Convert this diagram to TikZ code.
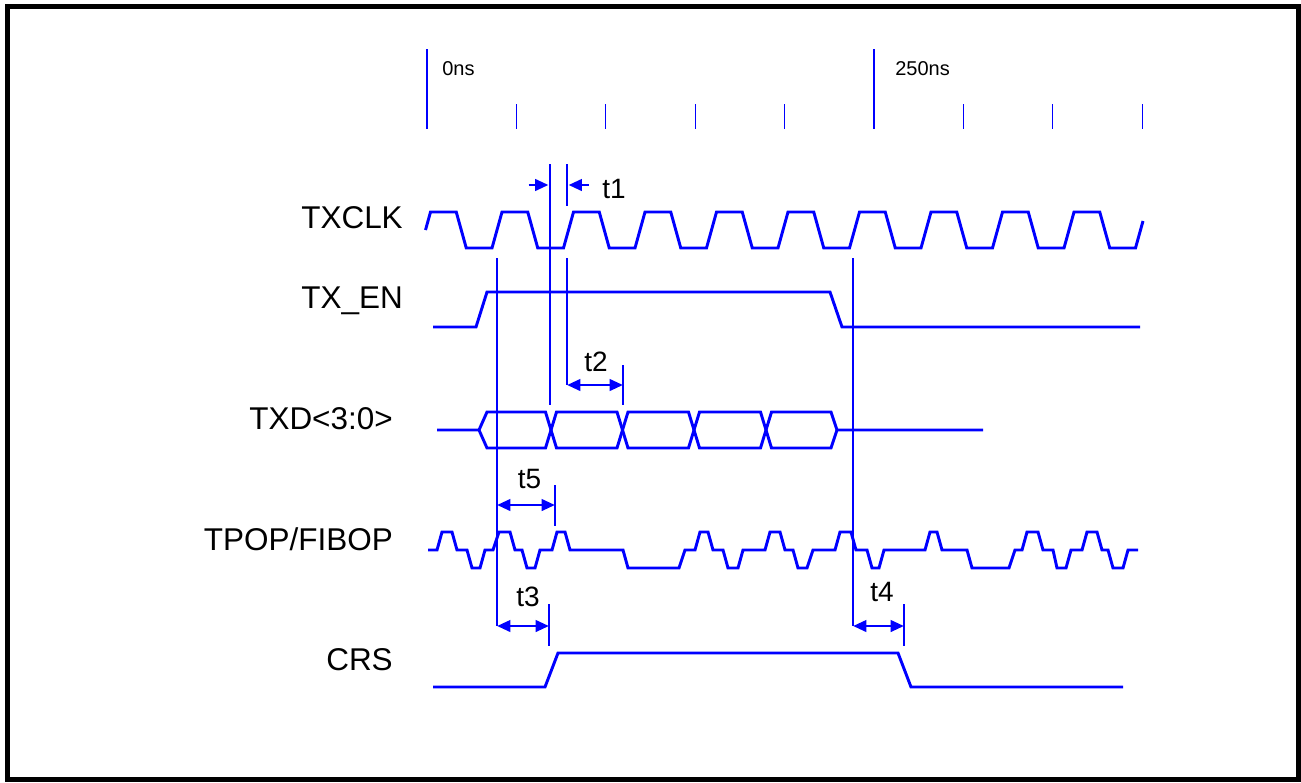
\documentclass[tikz,border=0pt]{standalone}
\usepackage{fontspec}
\setmainfont{Liberation Sans}
\usetikzlibrary{arrows.meta}

\begin{document}
\begin{tikzpicture}[
  x=0.75pt, y=-0.75pt,
  wave/.style={
    draw=blue,
    line width=2.2pt,
    line join=miter
  },
  markline/.style={
    draw=blue,
    line width=2.2pt
  },
  scaletick/.style={
    draw=blue,
    line width=1pt
  },
  dimarrow/.style={
    draw=blue,
    line width=2.2pt,
    {Triangle[length=10pt,width=8.5pt]}-{Triangle[length=10pt,width=8.5pt]}
  },
  onearrow/.style={
    draw=blue,
    line width=2.2pt,
    -{Triangle[length=10pt,width=8.5pt]}
  },
  signame/.style={
    anchor=base east,
    inner sep=0pt,
    font=\fontsize{23.6}{28}\selectfont
  },
  tname/.style={
    anchor=base,
    inner sep=0pt,
    font=\fontsize{21}{25}\selectfont
  },
  scalename/.style={
    anchor=base west,
    inner sep=0pt,
    font=\fontsize{15}{18}\selectfont
  }]
  \useasboundingbox (0,0) rectangle (1301,782);
  \draw[line width=3.75pt] (7.5,6.5) rectangle (1298.5,779.5);

  % time scale
  \draw[scaletick] (427,49) -- (427,129);
  \draw[scaletick] (874,49) -- (874,129);
  \foreach \i in {1,2,3,4,6,7,8}
    \draw[scaletick] ({427+89.4*\i},104) -- ({427+89.4*\i},129);
  \node[scalename] (ns0) at (442,75) {0ns};
  \node[scalename] (ns250) at (895,75) {250ns};

  % signal names
  \node[signame] (txclk) at (403,228.5) {TXCLK};
  \node[signame] (txen) at (403,308) {TX\_EN};
  \node[signame] (txd) at (393,429) {TXD<3:0>};
  \node[signame] (tpop) at (393,550) {TPOP/FIBOP};
  \node[signame] (crs) at (393,670) {CRS};

  % TXCLK
  \draw[wave] (425.5,230) -- (430.5,212)
    \foreach \k in {0,...,8}{
      -- ({456.25+71.5*\k},212) -- ({466.25+71.5*\k},248)
      -- ({492+71.5*\k},248) -- ({502+71.5*\k},212)}
    -- (1099.75,212) -- (1109.75,248) -- (1135.5,248) -- (1143,221);

  % TX_EN
  \draw[wave] (433,327) -- (476,327) -- (487,292) -- (830,292)
    -- (842,327) -- (1140,327);

  % TXD<3:0>
  \draw[wave] (437,430) -- (479,430) -- (487,448) -- (545.5,448)
    -- (556.5,412) -- (617,412) -- (628,448) -- (688.5,448)
    -- (699.5,412) -- (760.5,412) -- (771.5,448) -- (831,448) -- (837,430);
  \draw[wave] (479,430) -- (487,412) -- (545.5,412) -- (556.5,448)
    -- (617,448) -- (628,412) -- (688.5,412) -- (699.5,448)
    -- (760.5,448) -- (771.5,412) -- (831,412) -- (837,430) -- (983,430);

  % TPOP/FIBOP
  \draw[wave] (428,550) \foreach \x/\y in {
      437/550, 442/532, 452/532, 457/550, 467/550, 472/568, 480/568,
      485/550, 493/550, 499/532, 510/532, 515/550, 522/550, 527/568,
      535/568, 540/550, 552/550, 557/532, 565/532, 570/550, 623/550,
      628/568, 679/568, 685/550, 695/550, 700/532, 708/532, 713/550,
      723/550, 728/568, 738/568, 743/550, 765/550, 770/532, 780/532,
      785/550, 793/550, 798/568, 807/568, 813/550, 835/550, 840/532,
      851/532, 856/550, 867/550, 872/568, 879/568, 884/550, 925/550,
      930/532, 937/532, 942/550, 967/550, 972/568, 1009/568, 1015/550,
      1022/550, 1027/532, 1038/532, 1043/550, 1053/550, 1057/568,
      1066/568, 1071/550, 1082/550, 1087/532, 1097/532, 1102/550,
      1108/550, 1113/568, 1123/568, 1128/550, 1138/550}{ -- (\x,\y)};

  % CRS
  \draw[wave] (433,687) -- (545,687) -- (558,653) -- (898,653)
    -- (911,687) -- (1123,687);

  % markers
  \coordinate (en0) at (497,258);
  \coordinate (en1) at (853,258);
  \coordinate (clk0) at (550,164);
  \coordinate (clk1) at (567,164);
  \coordinate (dat0) at (550,405);
  \coordinate (t1a) at (548.5,185);
  \coordinate (t1b) at (568.5,185);
  \coordinate (t2a) at (567,385);
  \coordinate (t2b) at (623,385);
  \coordinate (t5a) at (497,505);
  \coordinate (t5b) at (555,505);
  \coordinate (t3a) at (497,626);
  \coordinate (t3b) at (549,626);
  \coordinate (t4a) at (853,626);
  \coordinate (t4b) at (904,626);

  \draw[markline] (en0) -- (t3a);
  \draw[markline] (en1) -- (t4a);
  \draw[markline] (clk0) -- (dat0);
  \draw[markline] (clk1) -- ++(0,42);
  \draw[markline] (t2a) ++(0,-127) -- (t2a);
  \draw[markline] (t2b) ++(0,-20) -- ++(0,40);
  \draw[markline] (t5b) ++(0,-20) -- ++(0,41);
  \draw[markline] (t3b) ++(0,-22) -- ++(0,42);
  \draw[markline] (t4b) ++(0,-22) -- ++(0,42);

  \draw[onearrow] ([xshift=-15pt]t1a) -- (t1a);
  \draw[onearrow] ([xshift=15pt]t1b) -- (t1b);
  \draw[dimarrow] (t2a) -- (t2b);
  \draw[dimarrow] (t5a) -- (t5b);
  \draw[dimarrow] (t3a) -- (t3b);
  \draw[dimarrow] (t4a) -- (t4b);

  \node[tname, anchor=base west] (t1) at (602,198) {t1};
  \node[tname] (t2) at (596,371) {t2};
  \node[tname] (t5) at (529.5,488) {t5};
  \node[tname] (t3) at (528,606) {t3};
  \node[tname] (t4) at (882,601) {t4};
\end{tikzpicture}
\end{document}
